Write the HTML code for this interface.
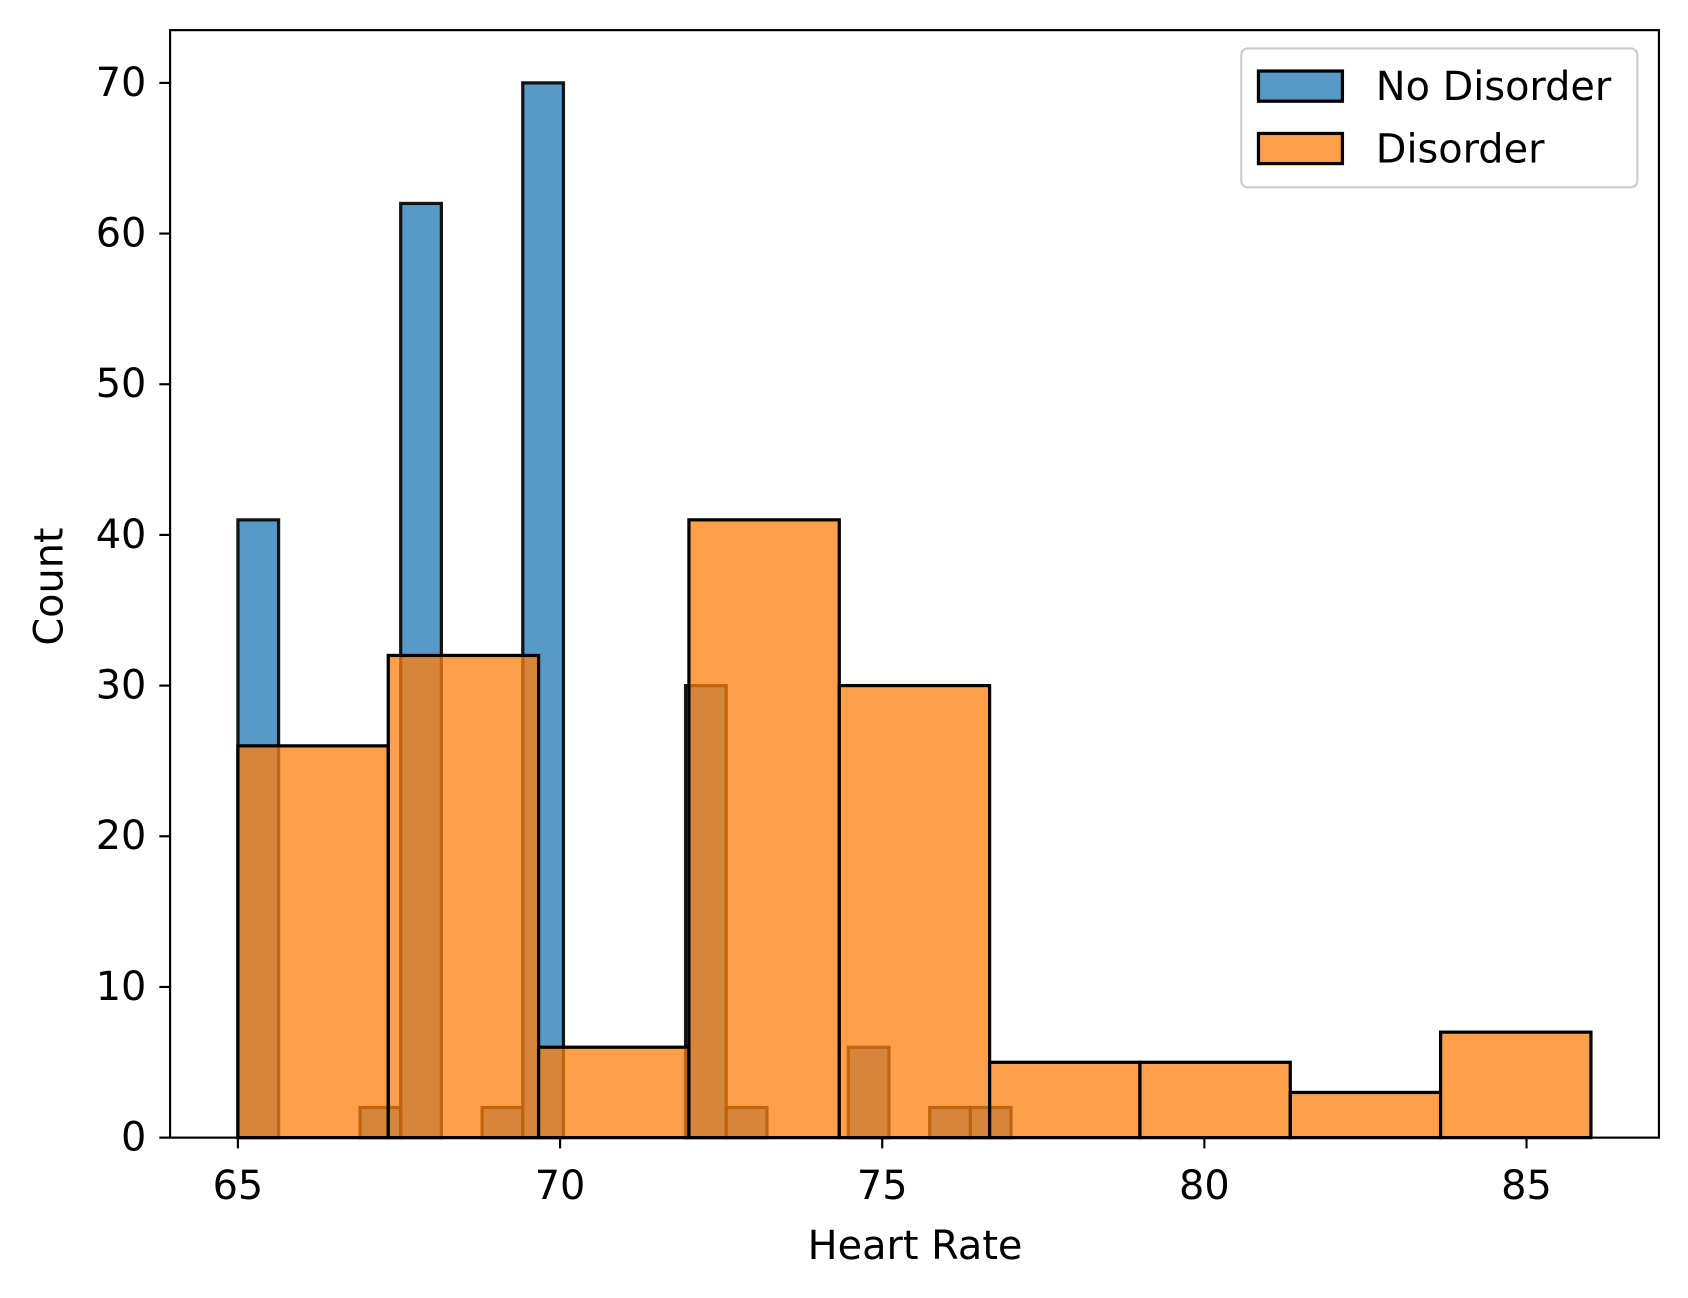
<!DOCTYPE html>
<html><head><meta charset="utf-8"><style>
html,body{margin:0;padding:0;background:#fff}
svg{display:block}
text{font-family:"DejaVu Sans","Liberation Sans",sans-serif;fill:#000}
</style></head><body>
<svg id="chart" width="1688" height="1298" viewBox="0 0 1568 1206" preserveAspectRatio="none" xmlns="http://www.w3.org/2000/svg">
<g id="bars"></g>
<rect x="158" y="28" width="1383" height="1029" fill="none" stroke="#000" stroke-width="2"/>
<g id="axes"></g>
<text x="850" y="1170" font-size="37" text-anchor="middle">Heart Rate</text>
<text x="0" y="0" font-size="37" text-anchor="middle" transform="translate(58,545) rotate(-90)">Count</text>
<g>
<rect x="1153" y="45" width="368" height="129" rx="6" fill="#fff" fill-opacity="0.8" stroke="#ccc" stroke-width="2"/>
<rect x="1169" y="66" width="78" height="28" fill="#1f77b4" fill-opacity="0.75" stroke="#000" stroke-width="3"/>
<text x="1278" y="93" font-size="37">No Disorder</text>
<rect x="1169" y="124" width="78" height="28" fill="#ff7f0e" fill-opacity="0.75" stroke="#000" stroke-width="3"/>
<text x="1278" y="151" font-size="37">Disorder</text>
</g>
</svg>
<script>
const blueStart = 65, blueWidth = 12/19;
const blueCounts = [41,0,0,2,62,0,2,70,0,0,0,30,2,0,0,6,0,2,2];
const orangeStart = 65, orangeWidth = 21/9;
const orangeCounts = [26,32,6,41,30,5,5,3,7];
const xTicks = [65,70,75,80,85];
const yTicks = [0,10,20,30,40,50,60,70];

const NS = "http://www.w3.org/2000/svg";
function xs(v){ return 221 + (v-65)*59.85; }
function ys(v){ return 1057 - v*14.0; }
const bars = document.getElementById('bars');
function drawSeries(start, width, counts, color, name, edgeOpacity){
  counts.forEach((c,i)=>{
    if(c<=0) return;
    const x0 = xs(start+i*width), x1 = xs(start+(i+1)*width);
    const r = document.createElementNS(NS,'rect');
    r.setAttribute('x',x0); r.setAttribute('y',ys(c));
    r.setAttribute('width',x1-x0); r.setAttribute('height',ys(0)-ys(c));
    r.setAttribute('fill',color); r.setAttribute('fill-opacity','0.75');
    r.setAttribute('stroke','#000'); r.setAttribute('stroke-opacity',edgeOpacity); r.setAttribute('stroke-width','3');
    
    
    bars.appendChild(r);
  });
}
drawSeries(blueStart, blueWidth, blueCounts, '#1f77b4', 'no-disorder', '0.9');
drawSeries(orangeStart, orangeWidth, orangeCounts, '#ff7f0e', 'disorder', '1');

const axes = document.getElementById('axes');
xTicks.forEach(t=>{
  const l = document.createElementNS(NS,'line');
  l.setAttribute('x1',xs(t)); l.setAttribute('x2',xs(t)); l.setAttribute('y1',1057); l.setAttribute('y2',1067);
  l.setAttribute('stroke','#000'); l.setAttribute('stroke-width','2');
  
  
  axes.appendChild(l);
  const tx = document.createElementNS(NS,'text');
  tx.setAttribute('x',xs(t)); tx.setAttribute('y',1114); tx.setAttribute('font-size','37'); tx.setAttribute('text-anchor','middle');
  tx.textContent = t;
  
  
  axes.appendChild(tx);
});
yTicks.forEach(t=>{
  const l = document.createElementNS(NS,'line');
  l.setAttribute('x1',148); l.setAttribute('x2',158); l.setAttribute('y1',ys(t)); l.setAttribute('y2',ys(t));
  l.setAttribute('stroke','#000'); l.setAttribute('stroke-width','2');
  
  
  axes.appendChild(l);
  const tx = document.createElementNS(NS,'text');
  tx.setAttribute('x',136); tx.setAttribute('y',ys(t)+12); tx.setAttribute('font-size','37'); tx.setAttribute('text-anchor','end');
  tx.textContent = t;
  
  
  axes.appendChild(tx);
});
</script>
</body></html>
